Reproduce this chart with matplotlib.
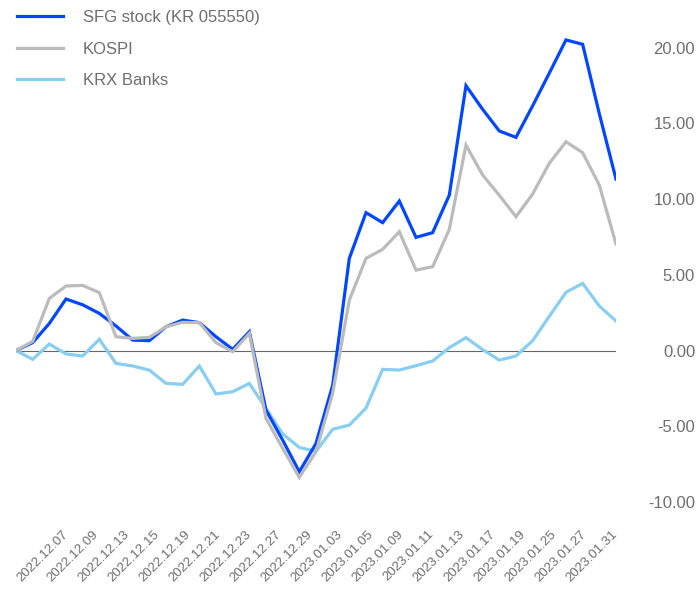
import matplotlib
matplotlib.use("Agg")
import matplotlib.pyplot as plt
import numpy as np

plt.rcParams['font.family'] = ['Liberation Sans', 'DejaVu Sans']

# tick labels (every other trading day, 2022.12.07 -> 2023.01.31)
date_labels = ['2022.12.07', '2022.12.09', '2022.12.13', '2022.12.15', '2022.12.19',
               '2022.12.21', '2022.12.23', '2022.12.27', '2022.12.29', '2023.01.03',
               '2023.01.05', '2023.01.09', '2023.01.11', '2023.01.13', '2023.01.17',
               '2023.01.19', '2023.01.25', '2023.01.27', '2023.01.31']

# cumulative change (%) per trading day
sfg = [0, 0.52, 1.79, 3.40, 3.02, 2.45, 1.62, 0.69, 0.65, 1.57, 2.01, 1.84, 0.91,
       0.08, 1.24, -3.93, -5.91, -8.0, -6.13, -2.3, 6.08, 9.10, 8.44, 9.87, 7.47,
       7.78, 10.26, 17.48, 15.92, 14.49, 14.07, 16.15, 18.31, 20.5, 20.21, 15.63, 11.32]
kospi = [0, 0.6, 3.44, 4.26, 4.30, 3.82, 0.91, 0.80, 0.87, 1.57, 1.86, 1.84, 0.52,
         -0.08, 1.13, -4.48, -6.46, -8.37, -6.68, -2.83, 3.33, 6.08, 6.68, 7.84, 5.31,
         5.53, 8.0, 13.56, 11.58, 10.25, 8.83, 10.33, 12.36, 13.78, 13.06, 10.92, 7.03]
krx_banks = [0, -0.58, 0.43, -0.23, -0.36, 0.74, -0.85, -1.02, -1.29, -2.17, -2.23,
             -1.02, -2.87, -2.72, -2.17, -3.82, -5.5, -6.4, -6.65, -5.2, -4.92, -3.8,
             -1.24, -1.29, -1.0, -0.69, 0.19, 0.85, 0.06, -0.63, -0.36, 0.65, 2.26,
             3.84, 4.43, 2.94, 1.95]

series_names = ['SFG stock (KR 055550)', 'KOSPI', 'KRX Banks']
y_ticks = [-10, -5, 0, 5, 10, 15, 20]

txt_col = '#6e6e6e'
x = np.arange(len(sfg))

fig = plt.figure(figsize=(7, 5.89), dpi=100)
ax = fig.add_axes([0.02286, 0.1219, 0.8571, 0.8489])

ax.axhline(0, color='#666666', lw=0.8, zorder=1)
l1, = ax.plot(x, sfg, color='#0047ff', lw=2.3, zorder=3, solid_joinstyle='miter')
l2, = ax.plot(x, kospi, color='#bbbbbb', lw=2.3, zorder=4, solid_joinstyle='miter')
l3, = ax.plot(x, krx_banks, color='#87cef0', lw=2.3, zorder=2, solid_joinstyle='miter')

ax.set_xlim(0, len(sfg) - 1)
ax.set_ylim(-11, 22)

# labels are spread a bit narrower than the data in the original chart
ax.set_xticks(np.linspace(2.76, 35.70, len(date_labels)))
ax.set_xticklabels(date_labels, rotation=45, ha='right', va='top',
                   rotation_mode='anchor', fontsize=9.6, color=txt_col)
ax.tick_params(axis='x', length=0, pad=8)

ax.yaxis.tick_right()
ax.set_yticks(y_ticks)
ax.set_yticklabels(['%.2f' % v for v in y_ticks], fontsize=12, color=txt_col)
for t in ax.get_yticklabels():
    t.set_horizontalalignment('right')
ax.tick_params(axis='y', length=0, pad=57)

for s in ax.spines.values():
    s.set_visible(False)

leg = fig.legend([l1, l2, l3], series_names, loc='upper left',
                 bbox_to_anchor=(0.0243, 0.983), frameon=False, fontsize=12,
                 handlelength=2.75, handletextpad=1.2, labelspacing=0.99,
                 borderpad=0, borderaxespad=0)
for t in leg.get_texts():
    t.set_color(txt_col)

fig.savefig('out.png', dpi=100)
